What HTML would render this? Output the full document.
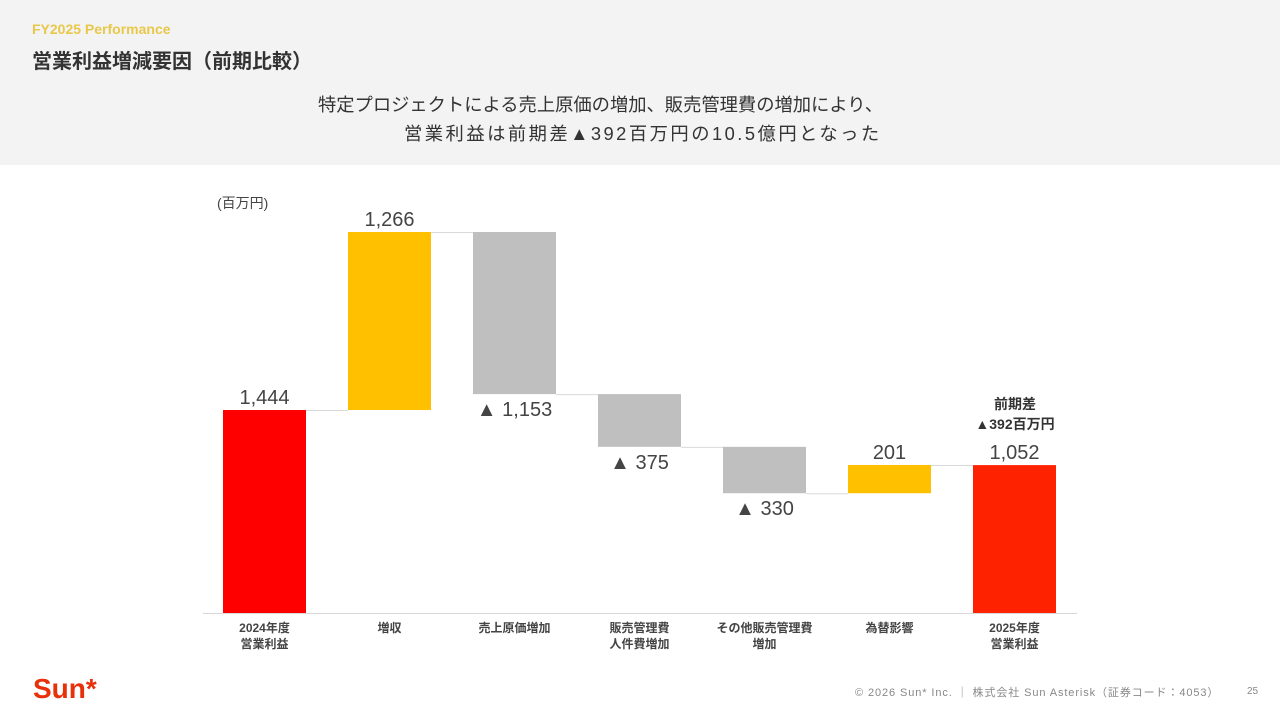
<!DOCTYPE html>
<html><head><meta charset="utf-8"><style>
body{margin:0;width:1280px;height:719px;background:#fff;position:relative;overflow:hidden;font-family:"Liberation Sans","Noto Sans CJK JP",sans-serif;color:#333}
.hdr{position:absolute;left:0;top:0;width:1280px;height:165px;background:#f3f3f3}
.abs{position:absolute;white-space:nowrap}
</style></head><body>
<div class="hdr"></div>
<div class="abs" style="left:32px;top:21px;font-size:14px;font-weight:bold;color:#e8c84a">FY2025 Performance</div>
<div class="abs" style="left:32px;top:45px;font-size:20px;font-weight:bold;color:#333">営業利益増減要因（前期比較）</div>
<div class="abs" style="left:318px;width:562px;top:90px;font-size:18.3px;line-height:30px;color:#333;text-align:left">特定プロジェクトによる売上原価の増加、販売管理費の増加により、</div>
<div class="abs" style="left:404px;top:119px;font-size:18.3px;letter-spacing:2.5px;line-height:30px;color:#333;text-align:left">営業利益は前期差▲392百万円の10.5億円となった</div>
<div class="abs" style="left:217px;top:193px;font-size:14px;color:#444">(百万円)</div>
<svg id="chart" class="abs" style="left:0;top:0" width="1280" height="719"></svg>
<div class="abs" style="left:955px;top:394px;width:120px;text-align:center;font-size:14px;font-weight:bold;line-height:20px;color:#333">前期差<br>▲392百万円</div>
<div class="abs" style="left:33px;top:673px;font-size:28px;font-weight:bold;color:#e8300a">Sun*</div>
<div class="abs" style="left:855px;top:684px;font-size:11px;letter-spacing:0.9px;color:#888">© 2026 Sun* Inc. ｜ 株式会社 Sun Asterisk（証券コード：4053）</div>
<div class="abs" style="left:1247px;top:686px;font-size:10px;color:#888">25</div>
<script>
const categories=["2024年度\n営業利益","増収","売上原価増加","販売管理費\n人件費増加","その他販売管理費\n増加","為替影響","2025年度\n営業利益"];
const values=[1444,1266,-1153,-375,-330,201,1052];
const kinds=["total","delta","delta","delta","delta","delta","total"];
const labels=["1,444","1,266","▲ 1,153","▲ 375","▲ 330","201","1,052"];
const colors={total0:"#ff0000",total6:"#ff2200",up:"#ffc000",down:"#bfbfbf"};
const svg=document.getElementById('chart');const NS="http://www.w3.org/2000/svg";
const base=613,k=203/1444;
const y=v=>base-v*k;const x0=i=>223+125*i;const bw=83;
function el(t,a){const e=document.createElementNS(NS,t);for(const n in a)e.setAttribute(n,a[n]);svg.appendChild(e);return e;}
let axis=el('line',{x1:203,x2:1077,y1:base+0.5,y2:base+0.5,stroke:'#d9d9d9','stroke-width':1});


let run=0;
values.forEach((v,i)=>{
 let lo,hi,fill;
 if(kinds[i]==="total"){lo=0;hi=v;run=v;fill=i===0?colors.total0:colors.total6;}
 else{lo=Math.min(run,run+v);hi=Math.max(run,run+v);fill=v>0?colors.up:colors.down;run+=v;}
 const r=el('rect',{x:x0(i),y:y(hi),width:bw,height:y(lo)-y(hi),fill:fill});
 
 
 if(i<values.length-1){const ln=el('line',{x1:x0(i)+bw,x2:x0(i+1),y1:y(run)+0.5,y2:y(run)+0.5,stroke:'#d9d9d9','stroke-width':1});
  
  }
 const ly=v<0?y(lo)+22:y(hi)-6;
 const t=el('text',{x:x0(i)+bw/2,y:ly,'text-anchor':'middle','font-size':20,fill:'#444'});t.textContent=labels[i];
 
 
 categories[i].split("\n").forEach((s,j)=>{const c=el('text',{x:x0(i)+bw/2,y:632+j*16,'text-anchor':'middle','font-size':12,'font-weight':'bold',fill:'#444'});c.textContent=s;
  
  });
});
</script>
</body></html>
